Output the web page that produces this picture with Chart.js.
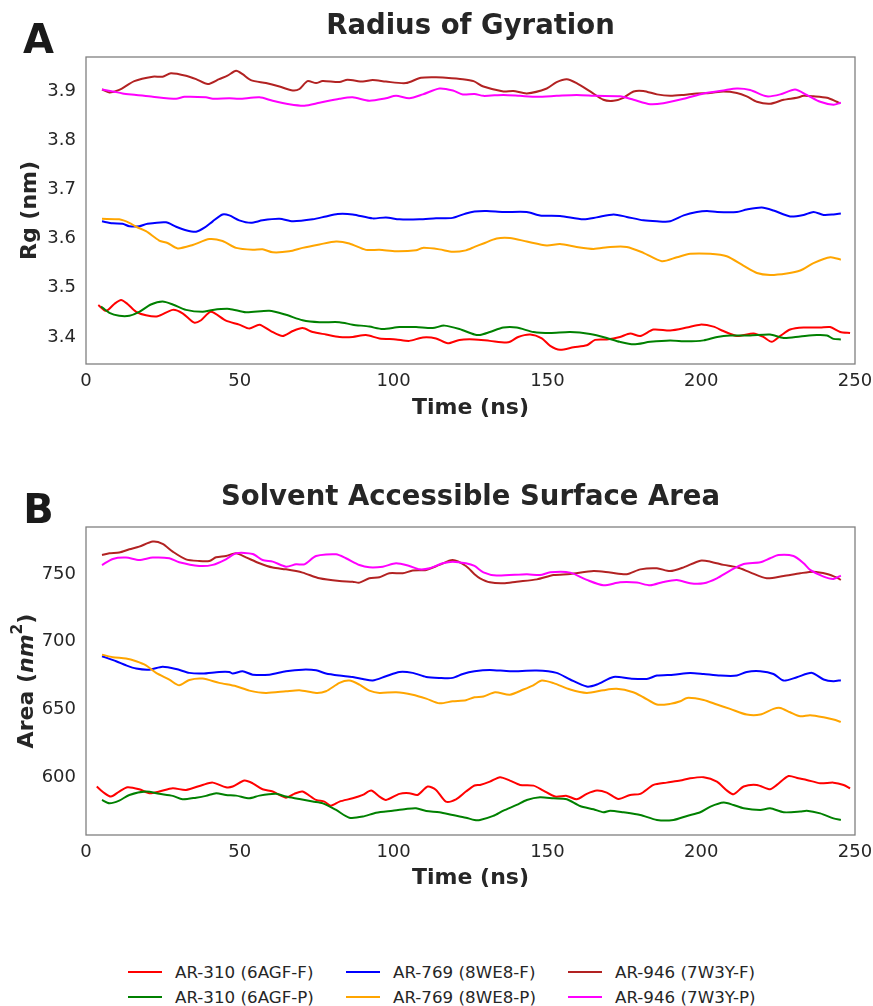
<!DOCTYPE html>
<html>
<head>
<meta charset="utf-8">
<script src="https://cdn.jsdelivr.net/npm/chart.js@4.4.0/dist/chart.umd.min.js"></script>
<style>
  body { margin: 0; background: #fff; font-family: "DejaVu Sans", sans-serif; }
  #page { position: relative; width: 873px; height: 1006px; overflow: hidden; }
  #boxA { position: absolute; left: 0; top: 0; }
  #boxB { position: absolute; left: 0; top: 440px; }
  .leg { position: absolute; height: 20px; display: flex; align-items: center; font-size: 16.7px; color: #262626; white-space: nowrap; }
  .leg span.ln { display: inline-block; width: 34px; height: 2px; margin-right: 13px; }
</style>
</head>
<body>
<div id="page">
  <div id="boxA"><canvas id="rgChart" width="873" height="440"></canvas></div>
  <div id="boxB"><canvas id="sasaChart" width="873" height="470"></canvas></div>
  <div id="legend"></div>
</div>
<script>
// tick labels
var xTicks = [0, 50, 100, 150, 200, 250];
var rgTicks = [3.4, 3.5, 3.6, 3.7, 3.8, 3.9];
var sasaTicks = [600, 650, 700, 750];

var seriesNames = ['AR-310 (6AGF-F)', 'AR-310 (6AGF-P)', 'AR-769 (8WE8-F)', 'AR-769 (8WE8-P)', 'AR-946 (7W3Y-F)', 'AR-946 (7W3Y-P)'];
var seriesColors = ['#ff0000', '#008000', '#0000ff', '#ffa500', '#b22222', '#ff00ff'];

// Radius of gyration (nm), [time ns, value]
var rg310F = [[4,3.465],[6.5,3.453],[9.2,3.467],[11.4,3.475],[13.5,3.467],[16.3,3.451],[19.5,3.444],[23.3,3.442],[28.2,3.455],[31.4,3.448],[35.2,3.429],[37.4,3.434],[40.6,3.451],[45.5,3.433],[49.8,3.425],[53.1,3.417],[56.4,3.425],[60.1,3.412],[63.9,3.402],[67.2,3.412],[70.4,3.418],[73.7,3.410],[78,3.405],[82.4,3.400],[86.7,3.400],[91,3.404],[95.4,3.397],[100.8,3.395],[105.1,3.392],[109.5,3.399],[113.8,3.397],[117.6,3.387],[121.4,3.394],[126.3,3.395],[131.3,3.392],[137.3,3.389],[140.5,3.400],[144.4,3.405],[148.2,3.397],[150.9,3.382],[154.1,3.374],[158.5,3.379],[162.8,3.383],[165.5,3.394],[169.3,3.395],[173.6,3.400],[176.9,3.407],[180.2,3.402],[184.5,3.415],[189.9,3.413],[195.3,3.419],[199.7,3.425],[204,3.421],[207.2,3.412],[211.6,3.402],[217,3.407],[220.2,3.400],[222.9,3.390],[225.7,3.402],[228.9,3.415],[233.3,3.419],[238.7,3.419],[241.9,3.420],[245.2,3.410],[248.4,3.408]];
var rg310P = [[4.9,3.462],[7.6,3.449],[10.8,3.443],[14.1,3.443],[17.3,3.451],[21.1,3.466],[24.9,3.472],[28.2,3.466],[32.5,3.455],[37.9,3.451],[41.2,3.455],[46.6,3.457],[52,3.450],[59.6,3.453],[65,3.445],[70.4,3.434],[75.9,3.430],[82.4,3.430],[86.7,3.425],[92.1,3.421],[96.4,3.416],[101.9,3.420],[107.3,3.420],[112.7,3.418],[116.5,3.423],[121.4,3.416],[126.3,3.405],[128.1,3.404],[131.3,3.410],[135.7,3.419],[140,3.419],[145.5,3.410],[150.9,3.408],[157.4,3.410],[163.9,3.406],[169.3,3.398],[173.6,3.390],[178,3.385],[183.4,3.390],[189.9,3.393],[195.3,3.391],[200.8,3.393],[205.2,3.400],[209.4,3.403],[215.9,3.403],[222.4,3.405],[226.8,3.398],[232.2,3.401],[237.6,3.404],[240.9,3.403],[243,3.396],[245.4,3.395]];
var rg769F = [[5.2,3.635],[8.7,3.631],[11.9,3.630],[14.1,3.625],[17.3,3.625],[20,3.630],[26,3.633],[29.3,3.624],[32.5,3.617],[35.8,3.614],[38.5,3.622],[41.2,3.635],[44.4,3.649],[46.6,3.647],[49.8,3.637],[53.6,3.632],[57.4,3.637],[62.9,3.640],[67.2,3.635],[73.7,3.639],[78,3.645],[81.8,3.650],[86.7,3.649],[93.2,3.641],[97.5,3.643],[101.9,3.639],[108.4,3.639],[113.8,3.641],[119.2,3.642],[123.5,3.651],[126.3,3.655],[130.3,3.656],[135.7,3.654],[143.3,3.654],[147.6,3.647],[154.1,3.646],[161.7,3.639],[166,3.643],[171.5,3.649],[175.8,3.644],[181.2,3.637],[185.6,3.635],[189.9,3.635],[194.3,3.647],[198.6,3.654],[201.9,3.656],[205.2,3.654],[211.6,3.654],[214.8,3.659],[219.7,3.663],[223.5,3.657],[228.9,3.645],[233.3,3.648],[236.5,3.654],[239.8,3.648],[243,3.649],[245.4,3.651]];
var rg769P = [[5.2,3.640],[10.8,3.639],[14.1,3.632],[16.3,3.624],[19.5,3.615],[23.8,3.596],[26.5,3.591],[29.8,3.580],[34.7,3.587],[40.1,3.599],[44.4,3.595],[48.8,3.581],[54.2,3.577],[57.4,3.578],[60.7,3.572],[66.1,3.574],[70.4,3.581],[75.9,3.588],[81.3,3.594],[85.6,3.590],[91,3.577],[95.4,3.577],[100.8,3.574],[107.3,3.576],[109.5,3.581],[114.9,3.578],[119.2,3.573],[123.5,3.576],[126.3,3.583],[129.2,3.590],[133.5,3.600],[137.8,3.601],[143.3,3.594],[149.8,3.586],[154.1,3.589],[159.5,3.583],[165,3.579],[170.4,3.583],[175.8,3.583],[181.2,3.571],[187.2,3.554],[192.1,3.562],[196.4,3.569],[202.9,3.569],[208.3,3.564],[213.7,3.545],[218.1,3.530],[222.4,3.526],[227.8,3.529],[232.2,3.535],[236.5,3.550],[242,3.562],[245.4,3.557]];
var rg946F = [[5.2,3.903],[7.6,3.897],[10.8,3.902],[15.7,3.920],[21.7,3.929],[24.9,3.929],[27.6,3.936],[32.5,3.931],[35.8,3.924],[39.6,3.914],[43.3,3.924],[46,3.931],[48.8,3.941],[50.9,3.934],[53.6,3.922],[58.5,3.916],[62.9,3.909],[67.2,3.901],[69.4,3.904],[72,3.920],[74.8,3.916],[76.9,3.920],[82.4,3.918],[85,3.923],[90,3.919],[93.2,3.922],[97.5,3.919],[104,3.916],[108.9,3.927],[113.8,3.928],[117,3.927],[122.5,3.924],[126,3.920],[129.2,3.909],[135.7,3.899],[138.9,3.900],[143.3,3.895],[149.8,3.905],[153,3.918],[156.3,3.924],[159.5,3.916],[163.9,3.899],[168.2,3.882],[171.5,3.880],[174.7,3.886],[178,3.899],[181.2,3.900],[185.6,3.893],[189.9,3.890],[194.3,3.892],[198.6,3.895],[202.9,3.896],[207.2,3.899],[211.6,3.896],[214.8,3.889],[218.1,3.878],[222.4,3.874],[226.8,3.882],[231.1,3.886],[233.3,3.890],[236.5,3.889],[240.9,3.886],[244.1,3.878],[245.2,3.875]];
var rg946P = [[5.2,3.903],[8.7,3.899],[11.9,3.895],[16.3,3.892],[21.7,3.888],[29.3,3.884],[32,3.888],[39,3.887],[41.2,3.884],[46.6,3.885],[49.8,3.884],[56.4,3.887],[60.7,3.880],[66.1,3.873],[71,3.870],[75.9,3.876],[82.4,3.884],[86.7,3.887],[92.1,3.880],[97.5,3.885],[100.8,3.890],[105.1,3.885],[109.5,3.893],[114.9,3.905],[119.3,3.901],[122.5,3.893],[126.3,3.894],[129.2,3.890],[135.7,3.892],[141.1,3.890],[146.6,3.888],[153,3.890],[159.5,3.892],[166,3.890],[173.6,3.889],[178,3.882],[183.4,3.873],[187.7,3.875],[194.3,3.884],[200.8,3.895],[207.2,3.901],[211.6,3.905],[215.9,3.902],[221.3,3.889],[225.7,3.893],[230.5,3.903],[234.3,3.892],[238.7,3.878],[243,3.872],[245.4,3.876]];

// Solvent accessible surface area (nm^2), [time ns, value]
var sasa310F = [[3.5,592.9],[6,588],[8.1,585.5],[10.8,589.2],[13.5,592.4],[17.3,590.9],[20.6,588],[23.8,589.2],[28.2,591.6],[32.5,590.4],[37.9,594.1],[41.2,595.8],[45.5,592.4],[47.7,592.9],[51.5,597.3],[54.2,595.3],[57.4,590.9],[60.7,589.2],[65,584.7],[67.7,587.5],[70.4,589.2],[74.8,583],[77.5,581.8],[79.6,578.8],[82.4,581.8],[86.7,584.2],[90,586.7],[92.7,589.9],[95.4,585.5],[97.5,583],[101.9,587.5],[105.1,588],[107.8,586.7],[111.1,592.9],[113.8,590.4],[117,581.8],[120.3,583.5],[123.5,589.2],[126.3,593.7],[128.1,594.1],[131.3,596.5],[134.6,599.8],[137.8,597.3],[141.1,594.1],[145.5,593.6],[148.7,589.9],[152.5,585.5],[156.3,586],[159.5,583.5],[162.8,587.5],[166.1,589.9],[169.3,588.4],[173.1,583.7],[176.9,586.7],[180.2,587.5],[184.5,594.1],[188.8,595.8],[193.2,597.3],[196.4,599],[200.8,599.8],[205.1,596.5],[208.4,589.9],[210.5,587.2],[213.8,592.9],[218.1,594.1],[222.4,590.9],[224.6,594.1],[228.4,600.7],[231.6,599],[234.3,597.8],[238.7,595.3],[243,595.8],[246.3,594.1],[248.4,591.6]];
var sasa310P = [[5.2,583],[7.6,580.5],[10.8,582.5],[14.1,586.7],[19.5,589.2],[23.8,587.5],[28.2,586],[31.4,583.5],[35.8,584.7],[39,586],[42.3,588],[45.5,586.7],[48.8,586.2],[53.1,584.2],[56.4,586.2],[61.8,587.5],[65,585.5],[69.4,583.7],[73.7,581.8],[77,580.5],[81.3,575.6],[85.6,569.9],[90,570.7],[94.3,573.6],[99.7,575.1],[104,576.3],[107.3,576.8],[110.6,574.9],[114.9,573.9],[119.2,571.9],[123.5,569.9],[126.3,568.2],[128.1,568.2],[132.4,571.2],[135.7,575.1],[140,579.3],[143.3,583],[147.6,585],[152,584.2],[156.3,583.5],[160.6,578.5],[165,576.1],[168.2,573.9],[170.4,575.1],[174.7,573.9],[180.2,571.9],[185.6,568.2],[191,568.2],[195.4,571.2],[199.7,573.9],[203,578.1],[207.3,581.1],[210.5,579.3],[213.8,576.8],[219.2,575.6],[222.4,576.8],[226.8,573.9],[232.2,574.4],[234.3,575.1],[238.7,573.1],[243,569.4],[245.4,568.2]];
var sasa769F = [[5.2,689.2],[9.8,685.5],[13,682.5],[16.3,680.1],[20.6,679.3],[24.9,681.5],[29.3,679.8],[33.6,676.9],[37.9,676.4],[43.3,677.6],[46.6,677.6],[47.7,676.4],[50.9,678.1],[54.2,675.6],[59.6,675.6],[65,678.1],[70.4,679.3],[74.8,678.8],[78,676.4],[82.4,674.9],[86.7,673.9],[90,672.4],[93.2,671.2],[97.5,674.4],[101.9,677.6],[106.2,676.9],[110.6,673.9],[114.9,673.2],[119.2,673.2],[122.5,676.1],[126.3,678.1],[131.3,679.1],[137.8,678.1],[146.5,678.6],[153,676.9],[157.4,672],[162.8,666.8],[166.1,668.3],[171.5,673.9],[176.9,672.7],[182.3,672.4],[185.6,674.9],[191,675.6],[196.4,676.9],[200.8,676.1],[206.2,674.9],[211.6,674.9],[214.8,677.6],[219.2,678.1],[223.5,676.1],[226.8,671.2],[231.1,673.7],[236,676.9],[239.8,672],[243,670.7],[245.4,671.5]];
var sasa769P = [[5.2,690.4],[8.7,688.5],[13,687.5],[16.3,685.5],[19.5,682.5],[22.8,676.9],[27.1,671.9],[30.3,667.7],[33.6,671.7],[37.9,672.7],[43.3,669.5],[48.8,667],[53.1,663.8],[58.5,662.1],[65,663.3],[69.4,664.1],[74.8,662.1],[78,663.3],[82.4,669.5],[85.6,671.2],[88.9,668.2],[92.1,663.8],[95.4,662.1],[100.8,662.6],[106.2,660.8],[110.6,657.9],[114.9,654.4],[119.2,655.9],[123.5,656.7],[126.3,658.9],[129.2,659.4],[133,662.6],[137.8,660.8],[142.2,664.6],[145.4,667.7],[148.2,671.2],[152,669.3],[157.4,664.6],[162.8,662.1],[168.2,664.1],[172.5,665.1],[177.9,662.6],[181.2,658.9],[185.6,653.5],[189.9,654],[193.2,655.9],[195.4,658.4],[200.8,656.9],[205.1,653.5],[209.4,650.3],[214.8,646.1],[219.2,646.1],[223.5,650.3],[225.7,651],[228.9,647.8],[232.2,644.8],[235.4,645.6],[239.8,644.1],[243,642.4],[245.4,640.7]];
var sasa946F = [[5.2,764],[7.6,765.3],[10.8,765.8],[14.1,768.2],[17.3,770.2],[21.7,773.9],[24.9,772.2],[28.2,766.5],[32.5,760.8],[36.8,759.6],[40.1,759.6],[42.3,762.3],[45.5,763.3],[48.8,765.3],[52,762.3],[56.4,757.9],[60.7,754.7],[65,753.4],[70.4,751],[75.9,746.8],[82.4,744.8],[86.7,744.3],[88.9,743.6],[92.1,746.8],[95.4,747.5],[98.6,750.5],[103,750.5],[106.2,752.5],[110.6,753],[114.9,756.7],[119.2,760.3],[123.5,755.9],[126.3,749.8],[128.1,746.8],[131.3,743.8],[135.7,743.1],[140,744.3],[146.6,746],[152,749.2],[157.4,749.9],[165,752.1],[170.4,751],[175.8,749.8],[180.2,753.4],[185.6,754.2],[189.9,752.1],[194.3,754.9],[199.7,759.8],[203,759.1],[207.3,756.7],[211.6,754.9],[215.9,751.2],[221.3,746.8],[226.8,748.5],[232.2,750.5],[236.5,751.7],[240.9,750],[244.1,747.3],[245.4,745.6]];
var sasa946P = [[5.2,756.6],[8.7,761.1],[13,762.1],[17.3,760.3],[21.7,762.1],[27.1,761.6],[30.3,758.6],[36.8,755.9],[41.2,756.7],[45.5,760.8],[48.8,765.3],[54.2,764.8],[57.4,760.3],[60.7,759.1],[65,755.4],[68.3,757.1],[71,757.1],[74.8,763.3],[81.3,764.5],[84.5,761.6],[88.9,756.6],[92.1,754.9],[96.5,755.4],[100.8,757.9],[105.1,755.9],[108.4,753.4],[111.7,754.2],[116,757.9],[119.2,759.1],[123.5,757.9],[126.3,755.9],[129.2,751.2],[133.5,748.8],[143.3,749.8],[147.6,749.2],[150.9,751.2],[157.4,751],[162.8,745.6],[168.2,741.6],[173.6,743.8],[179.1,743.6],[183.4,741.6],[187.7,744.1],[192.1,745.6],[196.4,743.1],[200.8,743.1],[205.1,746.8],[209.4,752.5],[213.8,757.4],[219.2,758.6],[222.4,761.6],[225.1,764],[230,763.3],[233.3,757.9],[235.4,753],[239.8,748],[243,746.3],[245.4,748.8]];

var FONT = '"DejaVu Sans", sans-serif';
var TEXT = '#262626';
Chart.defaults.font.family = FONT;
Chart.defaults.color = TEXT;

function buildDatasets(seriesList) {
    return seriesList.map(function (pts, i) {
        return {
            label: seriesNames[i],
            data: pts.map(function (p) { return {x: p[0], y: p[1]}; }),
            borderColor: seriesColors[i],
            backgroundColor: seriesColors[i],
            borderWidth: 2,
            pointRadius: 0,
            tension: 0.25,
            order: seriesList.length - i, // later series drawn on top
        };
    });
}

// gray box round the plot area, plus panel letter and title
var panelPlugin = {
    id: 'panel',
    afterDraw: function (chart, args, opts) {
        var ctx = chart.ctx, a = chart.chartArea;
        ctx.save();
        ctx.strokeStyle = '#808080';
        ctx.lineWidth = 1.3;
        ctx.strokeRect(a.left, a.top, a.right - a.left, a.bottom - a.top);

        ctx.fillStyle = TEXT;
        ctx.textAlign = 'center';
        ctx.textBaseline = 'middle';
        ctx.font = 'bold 27.5px ' + FONT;
        ctx.fillText(opts.title, (a.left + a.right) / 2, opts.titleY);
        ctx.fillStyle = '#1a1a1a';
        ctx.font = 'bold 40px ' + FONT;
        ctx.fillText(opts.letter, 38.5, opts.letterY);

        if (opts.areaTitle) {
            // "Area (nm^2)" with italic nm and superscript 2
            var parts = [
                {t: 'Area (', f: 'bold 22px ', dy: 0},
                {t: 'nm', f: 'italic bold 22px ', dy: 0},
                {t: '2', f: 'bold 15.5px ', dy: -9},
                {t: ')', f: 'bold 22px ', dy: 0}
            ];
            var total = 0;
            parts.forEach(function (p) { ctx.font = p.f + FONT; p.w = ctx.measureText(p.t).width; total += p.w; });
            ctx.translate(27, (a.top + a.bottom) / 2);
            ctx.rotate(-Math.PI / 2);
            ctx.fillStyle = TEXT;
            ctx.textAlign = 'left';
            ctx.textBaseline = 'middle';
            var x = -total / 2;
            parts.forEach(function (p) { ctx.font = p.f + FONT; ctx.fillText(p.t, x, p.dy); x += p.w; });
        }
        ctx.restore();
    }
};

function makeOptions(yMin, yMax, yTicks, yDigits, yTitle, xHeight, topPad, panel) {
    return {
        responsive: false,
        animation: false,
        layout: {padding: {top: topPad, right: 18, left: 0, bottom: 0}},
        plugins: {
            legend: {display: false},
            tooltip: {enabled: false},
            panel: panel,
        },
        scales: {
            x: {
                type: 'linear',
                min: 0,
                max: 250,
                grid: {display: false, drawTicks: false},
                border: {display: false},
                afterBuildTicks: function (scale) {
                    scale.ticks = xTicks.map(function (v) { return {value: v}; });
                },
                afterFit: function (scale) {
                    scale.height = xHeight;
                    scale.paddingLeft = 0;
                    scale.paddingRight = 0;
                },
                ticks: {
                    autoSkip: false,
                    maxRotation: 0,
                    padding: 7,
                    color: TEXT,
                    font: {size: 18},
                },
                title: {
                    display: true,
                    text: 'Time (ns)',
                    color: TEXT,
                    font: {size: 22, weight: 'bold'},
                    padding: {top: 0, bottom: 19},
                },
            },
            y: {
                min: yMin,
                max: yMax,
                grid: {display: false, drawTicks: false},
                border: {display: false},
                afterBuildTicks: function (scale) {
                    scale.ticks = yTicks.map(function (v) { return {value: v}; });
                },
                afterFit: function (scale) {
                    scale.width = 86;
                    scale.paddingTop = 0;
                    scale.paddingBottom = 0;
                },
                ticks: {
                    autoSkip: false,
                    padding: 10,
                    color: TEXT,
                    font: {size: 18},
                    callback: function (value) {
                        return Number(value).toFixed(yDigits);
                    },
                },
                title: {
                    display: yTitle !== '',
                    text: yTitle,
                    color: TEXT,
                    font: {size: 22, weight: 'bold'},
                    padding: {top: 17, bottom: 0},
                },
            },
        },
    };
}

var rgChart = new Chart(document.getElementById('rgChart'), {
    type: 'line',
    data: {datasets: buildDatasets([rg310F, rg310P, rg769F, rg769P, rg946F, rg946P])},
    options: makeOptions(3.345, 3.969, rgTicks, 1, 'Rg (nm)', 76, 57,
        {title: 'Radius of Gyration', titleY: 27, letter: 'A', letterY: 43}),
    plugins: [panelPlugin],
});

var sasaChart = new Chart(document.getElementById('sasaChart'), {
    type: 'line',
    data: {datasets: buildDatasets([sasa310F, sasa310P, sasa769F, sasa769P, sasa946F, sasa946P])},
    options: makeOptions(557.1, 784.7, sasaTicks, 0, '', 75, 87,
        {title: 'Solvent Accessible Surface Area', titleY: 58, letter: 'B', letterY: 73, areaTitle: true}),
    plugins: [panelPlugin],
});

// legend, three columns of two
var legendX = [128, 346, 568];
var legendY = [962, 987];
var legend = document.getElementById('legend');
seriesNames.forEach(function (name, i) {
    var item = document.createElement('div');
    item.className = 'leg';
    item.style.left = legendX[Math.floor(i / 2)] + 'px';
    item.style.top = legendY[i % 2] + 'px';
    var ln = document.createElement('span');
    ln.className = 'ln';
    ln.style.background = seriesColors[i];
    item.appendChild(ln);
    item.appendChild(document.createTextNode(name));
    legend.appendChild(item);
});
</script>
</body>
</html>
